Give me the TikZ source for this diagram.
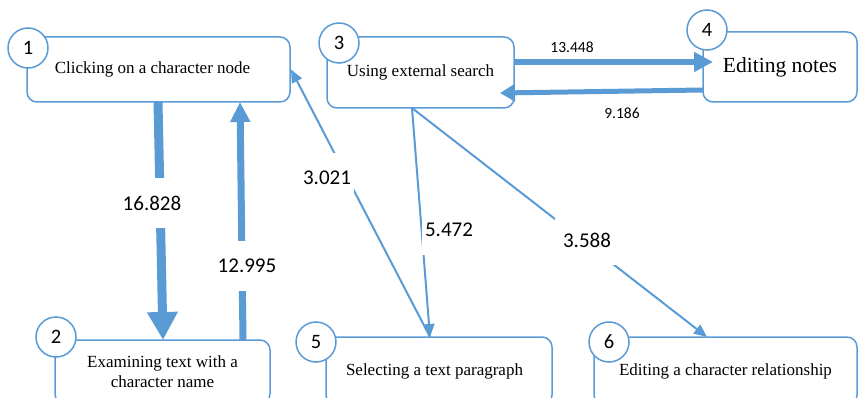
\documentclass[tikz,border=0pt]{standalone}
\usepackage{fontspec}
\setmainfont{Liberation Serif}
\newfontfamily\numfont{Carlito}
\usetikzlibrary{arrows.meta}
\definecolor{lblue}{RGB}{91,155,213}
\tikzset{
  stepbox/.style={draw=lblue, line width=1.5pt, rounded corners=10pt, rectangle, outer sep=0pt, inner sep=0pt, align=center, font=\fontsize{17}{20}\selectfont},
  numcirc/.style={draw=lblue, line width=1.5pt, fill=white, circle, minimum size=40pt, inner sep=0pt, outer sep=0pt, font=\numfont\fontsize{20.5}{22}\selectfont},
  biglab/.style={fill=white, inner xsep=3pt, minimum height=50pt, font=\numfont\fontsize{21}{24}\selectfont},
  smalllab/.style={inner sep=1pt, font=\numfont\fontsize{15.5}{18}\selectfont},
  thinarr/.style={draw=lblue, line width=2pt, -{Triangle[length=13pt,width=11pt]}},
}
\begin{document}
\begin{tikzpicture}[x=1pt,y=-1pt]
\useasboundingbox (0,0) rectangle (858,398);
\clip (0,0) rectangle (858,398);
% boxes
\node[stepbox, minimum width=263pt, minimum height=65pt] (b1) at (158.5,69.5) {Clicking on a character node\hspace*{12pt}};
\node[stepbox, minimum width=215pt, minimum height=64pt] (b2) at (162.5,372) {Examining text with a\\character name};
\node[stepbox, minimum width=187pt, minimum height=71pt] (b3) at (420.5,72.5) {Using external search};
\node[stepbox, minimum width=154pt, minimum height=70pt, font=\fontsize{21.5}{24}\selectfont] (b4) at (780,67) {Editing notes};
\node[stepbox, minimum width=226pt, minimum height=68pt] (b5) at (439,371) {Selecting a text paragraph\hspace*{9pt}};
\node[stepbox, minimum width=263pt, minimum height=68pt] (b6) at (725.5,371) {Editing a character relationship};
% arrows
\draw[draw=lblue, line width=9pt, -{Triangle[length=28pt,width=29pt]}] ([xshift=131pt]b1.south west) -- ([xshift=108pt]b2.north west);
\draw[draw=lblue, line width=7pt, -{Triangle[length=20pt,width=19pt]}] ([xshift=188pt]b2.north west) -- ([xshift=213pt]b1.south west);
\draw[thinarr] ([xshift=104pt]b5.north west) -- ([xshift=1pt]b1.east);
\draw[thinarr] ([xshift=85pt]b3.south west) -- ([xshift=104pt]b5.north west);
\draw[thinarr] ([xshift=85pt]b3.south west) -- ([xshift=113pt]b6.north west);
\draw[draw=lblue, line width=6pt, -{Triangle[length=19pt,width=19pt]}] ([yshift=10.5pt]b3.east) -- ([xshift=10pt,yshift=5pt]b4.west);
\draw[draw=lblue, line width=5pt, -{Triangle[length=15pt,width=17pt]}] ([yshift=-23pt]b4.west) -- ([xshift=-14pt,yshift=-20.5pt]b3.east);
% labels
\node[biglab] (l1) at (152,203) {16.828};
\node[biglab] (l2) at (247,266) {12.995};
\node[biglab] (l3) at (327,178) {3.021};
\node[biglab] (l4) at (449,230) {5.472};
\node[biglab, inner xsep=8pt] (l5) at (587,240) {3.588};
\node[smalllab] (l6) at (572,47) {13.448};
\node[smalllab] (l7) at (622,113) {9.186};
% circles
\node[numcirc] (c1) at (28,48) {1};
\node[numcirc] (c2) at (56,337) {2};
\node[numcirc] (c3) at (339,43) {3};
\node[numcirc] (c4) at (707,30) {4};
\node[numcirc] (c5) at (316,342) {5};
\node[numcirc] (c6) at (609,342) {6};
\end{tikzpicture}
\end{document}
